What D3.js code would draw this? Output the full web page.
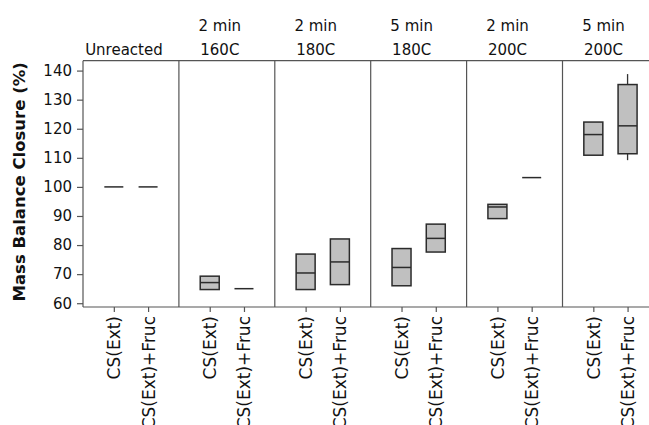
<!DOCTYPE html>
<html>
<head>
<meta charset="utf-8">
<script src="https://cdn.jsdelivr.net/npm/d3@7"></script>
<style>
  body { margin: 0; background: #fff; }
  svg { display: block; }
  text { font-family: "DejaVu Sans", Verdana, sans-serif; fill: #111; }
</style>
</head>
<body>
<svg id="chart" width="649" height="425"></svg>
<script>
// Reaction conditions (one panel each)
const panels = ["Unreacted", "2min-160C", "2min-180C", "5min-180C", "2min-200C", "5min-200C"];
const titleTop = ["", "2 min", "2 min", "5 min", "2 min", "5 min"];
const titleBottom = ["Unreacted", "160C", "180C", "180C", "200C", "200C"];
// Feedstocks within each panel
const groups = ["CS(Ext)", "CS(Ext)+Fruc"];

// Mass balance closure (%) per panel: [CS(Ext), CS(Ext)+Fruc]
const q1     = [[100, 100], [64.7, 65.0], [64.7, 66.4], [66.0, 77.6], [89.1, 103.2], [110.9, 111.4]];
const median = [[100, 100], [67.1, 65.0], [70.4, 74.2], [72.3, 82.3], [93.1, 103.2], [118.0, 121.0]];
const q3     = [[100, 100], [69.3, 65.0], [76.9, 82.1], [78.8, 87.2], [94.0, 103.2], [122.3, 135.2]];
const wLow   = [[100, 100], [64.7, 65.0], [64.7, 66.4], [66.0, 77.6], [89.1, 103.2], [110.9, 109.2]];
const wHigh  = [[100, 100], [69.3, 65.0], [76.9, 82.1], [78.8, 87.2], [94.0, 103.2], [122.3, 138.8]];

const yTicks = [60, 70, 80, 90, 100, 110, 120, 130, 140];
const yTitle = "Mass Balance Closure (%)";

const svg = d3.select("#chart");

const plotTop = 60.7, plotBottom = 307, plotLeft = 83, panelW = 95.9;
const y = d3.scaleLinear().domain([58.7, 143.4]).range([plotBottom, plotTop]);
const px = d3.scaleBand().domain(panels).range([plotLeft, plotLeft + panelW * panels.length]).padding(0);
const gx = d3.scalePoint().domain(groups).range([0, px.bandwidth()]).padding(0.9);

const frameColor = "#555";

// Panel headers
const head = svg.append("g");
panels.forEach((p, i) => {
  const cx = px(p) + px.bandwidth() / 2 - 7;
  if (titleTop[i]) {
    head.append("text").attr("x", cx).attr("y", 31)
      .attr("text-anchor", "middle").style("font-size", "15px").text(titleTop[i]);
  }
  head.append("text").attr("x", cx).attr("y", 55)
    .attr("text-anchor", "middle").style("font-size", "15px").text(titleBottom[i]);
});

// Y axis
const yAxis = svg.append("g")
  .attr("transform", `translate(${plotLeft},0)`)
  .call(d3.axisLeft(y).tickValues(yTicks).tickSize(6).tickPadding(5));
yAxis.select(".domain").remove();
yAxis.selectAll(".tick line").attr("stroke", frameColor).attr("stroke-width", 1.2);
yAxis.selectAll(".tick text").style("font-size", "15px").style("font-family", "DejaVu Sans, Verdana, sans-serif").attr("fill", "#111");

svg.append("text")
  .attr("transform", `translate(19,${(plotTop + plotBottom) / 2 - 2}) rotate(-90)`)
  .attr("text-anchor", "middle").attr("dy", "0.35em")
  .style("font-size", "16.5px").style("font-weight", "bold")
  .text(yTitle);

// X axes, one per panel
panels.forEach((p) => {
  const ax = svg.append("g")
    .attr("transform", `translate(${px(p)},${plotBottom})`)
    .call(d3.axisBottom(gx).tickSize(5));
  ax.select(".domain").remove();
  ax.selectAll(".tick line").attr("stroke", frameColor).attr("stroke-width", 1.2);
  ax.selectAll(".tick text")
    .attr("transform", "rotate(-90)")
    .attr("x", -9).attr("y", 0).attr("dy", "0.35em")
    .style("text-anchor", "end")
    .style("font-size", "17px")
    .style("font-family", "DejaVu Sans, Verdana, sans-serif")
    .attr("fill", "#111");
});

// Frame and panel dividers
const frame = svg.append("g").attr("stroke", frameColor).attr("stroke-width", 1.2).attr("fill", "none");
const plotRight = px.range()[1];
frame.append("line").attr("x1", plotLeft).attr("x2", plotRight).attr("y1", plotTop).attr("y2", plotTop);
frame.append("line").attr("x1", plotLeft).attr("x2", plotRight).attr("y1", plotBottom).attr("y2", plotBottom);
panels.forEach((p) => {
  frame.append("line").attr("x1", px(p)).attr("x2", px(p)).attr("y1", plotTop).attr("y2", plotBottom);
});
frame.append("line").attr("x1", plotRight).attr("x2", plotRight).attr("y1", plotTop).attr("y2", plotBottom);

// Boxes
const boxW = 19;
const boxes = svg.append("g");
panels.forEach((p, i) => {
  groups.forEach((g, j) => {
    const cx = px(p) + gx(g);
    const gb = boxes.append("g");
    if (wHigh[i][j] > q3[i][j]) {
      gb.append("line").attr("x1", cx).attr("x2", cx)
        .attr("y1", y(wHigh[i][j])).attr("y2", y(q3[i][j]))
        .attr("stroke", "#333").attr("stroke-width", 1.3);
    }
    if (wLow[i][j] < q1[i][j]) {
      gb.append("line").attr("x1", cx).attr("x2", cx)
        .attr("y1", y(q1[i][j])).attr("y2", y(wLow[i][j]))
        .attr("stroke", "#333").attr("stroke-width", 1.3);
    }
    gb.append("rect")
      .attr("x", cx - boxW / 2).attr("width", boxW)
      .attr("y", y(q3[i][j])).attr("height", y(q1[i][j]) - y(q3[i][j]))
      .attr("fill", "#c0c0c0").attr("stroke", "#2b2b2b").attr("stroke-width", 1.5);
    gb.append("line")
      .attr("x1", cx - boxW / 2).attr("x2", cx + boxW / 2)
      .attr("y1", y(median[i][j])).attr("y2", y(median[i][j]))
      .attr("stroke", "#2b2b2b").attr("stroke-width", 1.5);
  });
});
</script>
</body>
</html>
